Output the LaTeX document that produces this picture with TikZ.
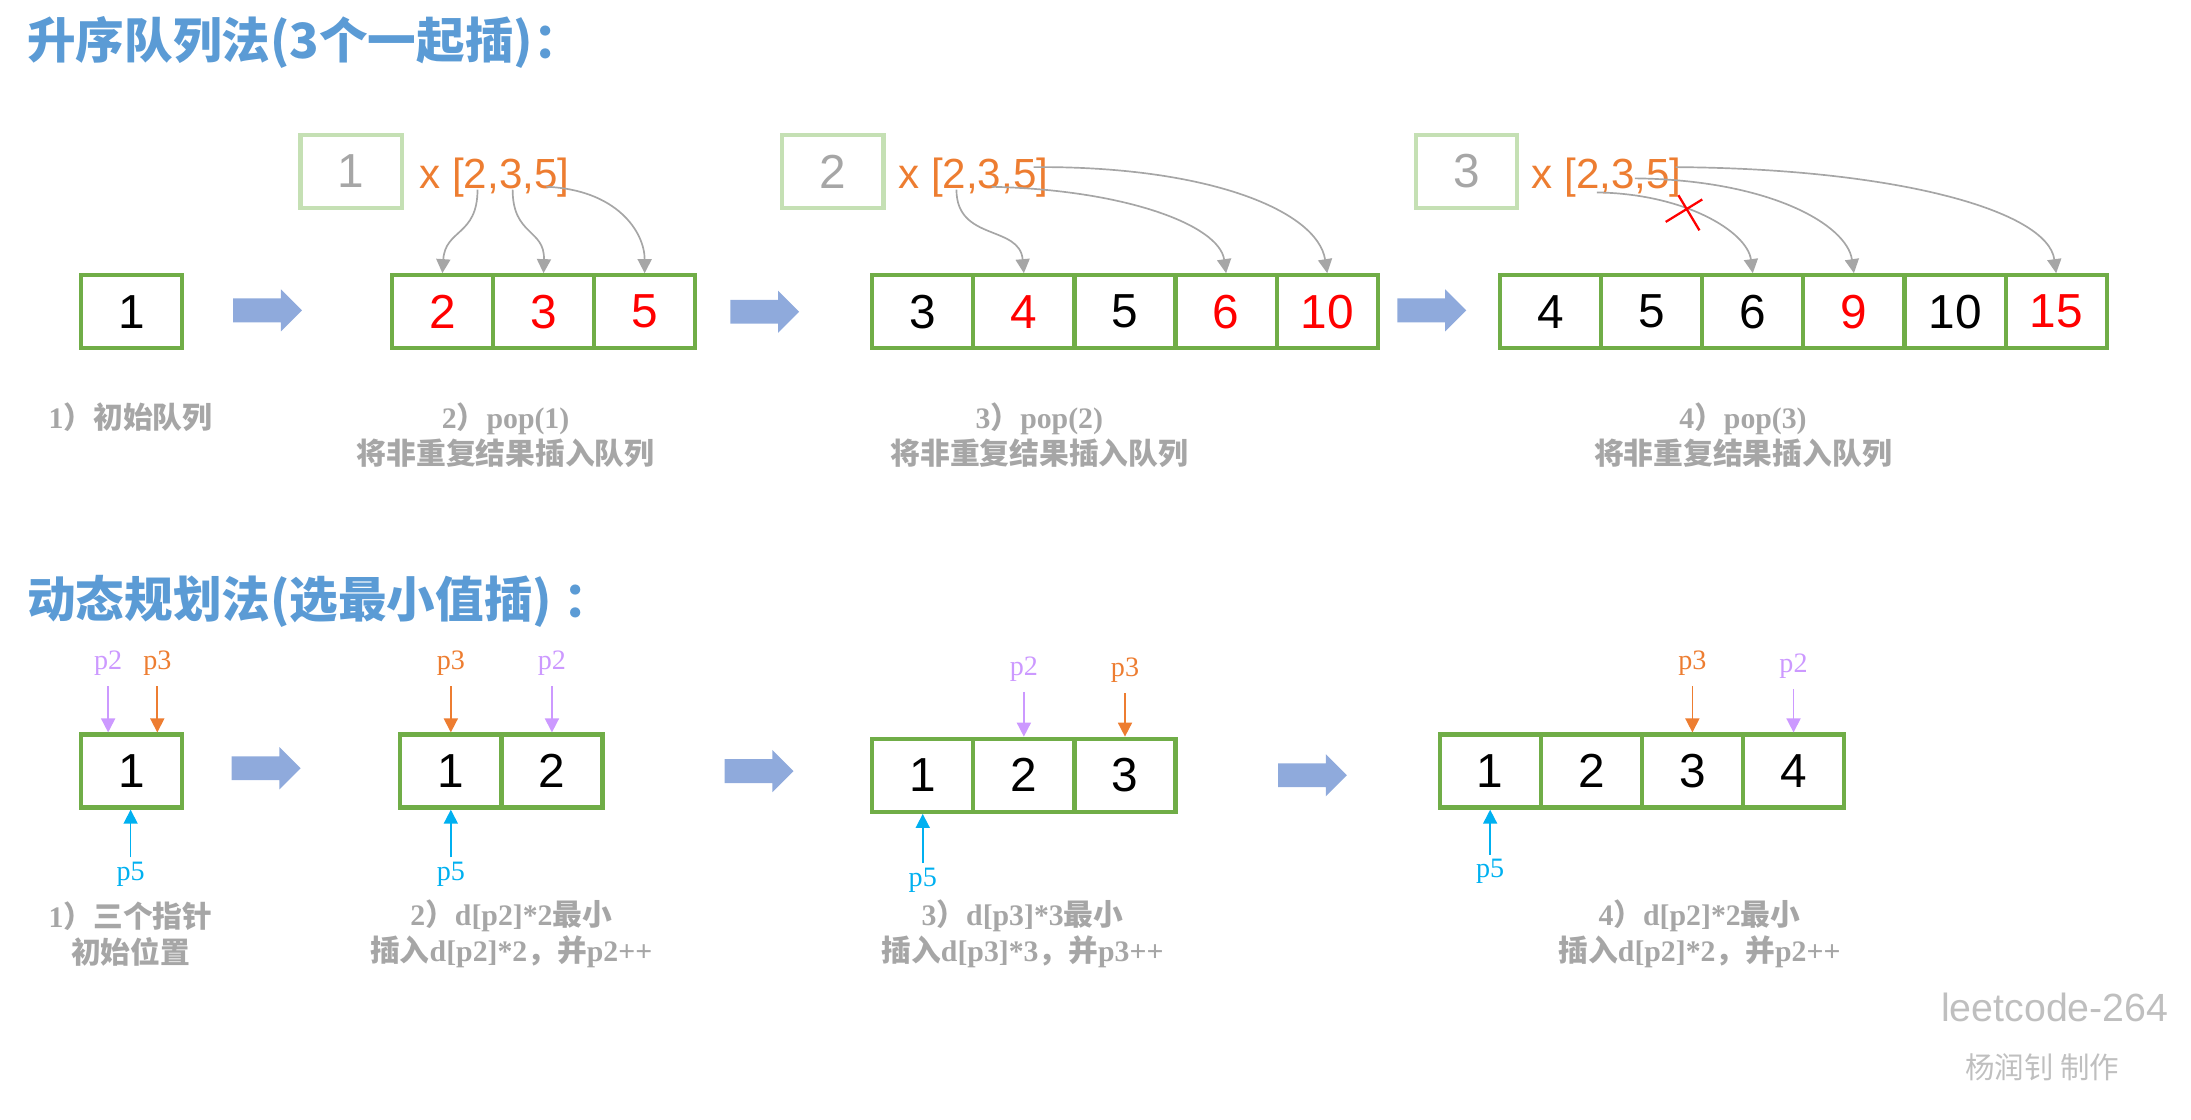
\documentclass[tikz,border=0pt]{standalone}
\usepackage{fontspec}
\setmainfont{Liberation Serif}
\setsansfont{Liberation Sans}
\newfontfamily\cjk{Noto Sans CJK SC}
\usetikzlibrary{arrows.meta}

\definecolor{boxgreen}{HTML}{70AD47}
\definecolor{ghostgreen}{HTML}{C5E0B4}
\definecolor{arrowblue}{HTML}{8FAADC}
\definecolor{titleblue}{HTML}{5B9BD5}
\definecolor{numorange}{HTML}{ED7D31}
\definecolor{ptrpurple}{HTML}{CC99FF}
\definecolor{ptrcyan}{HTML}{00B0F0}
\definecolor{labelgray}{HTML}{A6A6A6}
\definecolor{markgray}{HTML}{BFBFBF}

\newcommand{\zh}[1]{{\cjk #1}}

\tikzset{
  cell/.style={draw=boxgreen, line width=1.5pt, minimum width=36pt, minimum height=26pt, inner sep=0pt, font=\sffamily\fontsize{17}{17}\selectfont},
  ghost/.style={draw=ghostgreen, line width=1.5pt, minimum width=36pt, minimum height=26pt, inner sep=0pt, text=labelgray, font=\sffamily\fontsize{17}{17}\selectfont},
  factors/.style={text=numorange, inner sep=0pt, anchor=base, font=\sffamily\fontsize{15}{15}\selectfont},
  title/.style={text=titleblue, anchor=west, inner sep=0pt, font=\cjk\bfseries\fontsize{17.3}{19}\selectfont},
  caption/.style={text=labelgray, align=center, inner sep=0pt, font=\bfseries\fontsize{10.6}{12.8}\selectfont},
  ptr/.style={inner sep=0pt, anchor=base, font=\fontsize{10}{10}\selectfont},
  feed/.style={draw=labelgray, line width=0.6pt, -{Triangle[width=5pt,length=5pt]}},
  pointer/.style={line width=0.6pt, -{Triangle[width=5pt,length=5pt]}},
  fatarrow/.pic={\fill[arrowblue] (0,-8.5) -- (34,-8.5) -- (34,-15) -- (49,0) -- (34,15) -- (34,8.5) -- (0,8.5) -- cycle;}
}

\begin{document}
\begin{tikzpicture}[x=0.5pt, y=-0.5pt]
    \useasboundingbox (0,0) rectangle (1560,797);

    % Titles
    \node[title] (t1) at (19,30) {升序队列法(3个一起插)：};
    \node[title] (t2) at (19,428) {动态规划法(选最小值插) ：};

    % Ascending queue, step 1
    \node[cell] (q1-1) at (93.5,222) {1};
    \node[caption] (c1) at (93,297) {1\zh{）初始队列}};
    \pic at (166,221) {fatarrow};

    % Step 2: pop(1)
    \node[ghost] (g1) at (250,122) {1};
    \node[factors] (f1) at (352,134) {x [2,3,5]};
    \foreach \v [count=\i] in {2,3,5}
        \node[cell, text=red] (q2-\i) at ({243+72*\i},222) {\v};
    \coordinate (s1a) at (340,135);
    \coordinate (s1b) at (365,135);
    \coordinate (s1c) at (389,133);
    \draw[feed] (s1a) .. controls (340,168) and (317,163) .. (q2-1.north);
    \draw[feed] (s1b) .. controls (365,168) and (388,163) .. (q2-2.north);
    \draw[feed] (s1c) .. controls (439,135) and (459,165) .. (q2-3.north);
    \node[caption] (c2) at (360,310) {2\zh{）}pop(1)\\\zh{将非重复结果插入队列}};
    \pic at (520,222) {fatarrow};

    % Step 3: pop(2)
    \node[ghost] (g2) at (593,122) {2};
    \node[factors] (f2) at (693,134) {x [2,3,5]};
    \foreach \v/\c [count=\i] in {3/black,4/red,5/black,6/red,10/red}
        \node[cell, text=\c] (q3-\i) at ({585+72*\i},222) {\v};
    \coordinate (s2a) at (681,135);
    \coordinate (s2b) at (706,133);
    \coordinate (s2c) at (736,119);
    \draw[feed] (s2a) .. controls (681,172) and (726,160) .. (q3-2.north);
    \draw[feed] (s2b) .. controls (800,135) and (868,160) .. (q3-4.north);
    \draw[feed] (s2c) .. controls (860,118) and (938,150) .. (q3-5.north);
    \node[caption] (c3) at (740,310) {3\zh{）}pop(2)\\\zh{将非重复结果插入队列}};
    \pic at (995,221) {fatarrow};

    % Step 4: pop(3)
    \node[ghost] (g3) at (1044,122) {3};
    \node[factors] (f3) at (1144,134) {x [2,3,5]};
    \foreach \v/\c [count=\i] in {4/black,5/black,6/black,9/red,10/black,15/red}
        \node[cell, text=\c] (q4-\i) at ({1032+72*\i},222) {\v};
    \coordinate (s3a) at (1137,137);
    \coordinate (s3b) at (1164,127);
    \coordinate (s3c) at (1193,119);
    \draw[feed] (s3a) .. controls (1200,138) and (1244,165) .. (q4-3.north);
    \draw[feed] (s3b) .. controls (1260,128) and (1315,160) .. (q4-4.north);
    \draw[feed] (s3c) .. controls (1350,120) and (1458,150) .. (q4-6.north);
    \draw[red, line width=0.8pt] (1186,158) -- (1212,142) (1195,139) -- (1210,164);
    \node[caption] (c4) at (1241,310) {4\zh{）}pop(3)\\\zh{将非重复结果插入队列}};

    % DP, step 1
    \node[cell] (d1-1) at (93.5,549) {1};
    \node[ptr, text=ptrpurple] (p2a) at (77,477) {p2};
    \node[ptr, text=numorange] (p3a) at (112,477) {p3};
    \node[ptr, text=ptrcyan] (p5a) at (93,627) {p5};
    \draw[pointer, ptrpurple, shorten <=3.5pt] (p2a.south) -- (p2a.south |- d1-1.north);
    \draw[pointer, numorange, shorten <=3.5pt] (p3a.south) -- (p3a.south |- d1-1.north);
    \draw[pointer, ptrcyan, shorten <=1.5pt] (p5a.north) -- (p5a.north |- d1-1.south);
    \node[caption] (e1) at (93,665) {1\zh{）三个指针}\\\zh{初始位置}};
    \pic at (165,547) {fatarrow};

    % DP, step 2
    \foreach \v [count=\i] in {1,2}
        \node[cell] (d2-\i) at ({249+72*\i},549) {\v};
    \node[ptr, text=numorange] (p3b) at (321,477) {p3};
    \node[ptr, text=ptrpurple] (p2b) at (393,477) {p2};
    \node[ptr, text=ptrcyan] (p5b) at (321,627) {p5};
    \draw[pointer, numorange, shorten <=3.5pt] (p3b.south) -- (p3b.south |- d2-1.north);
    \draw[pointer, ptrpurple, shorten <=3.5pt] (p2b.south) -- (p2b.south |- d2-2.north);
    \draw[pointer, ptrcyan, shorten <=1.5pt] (p5b.north) -- (p5b.north |- d2-1.south);
    \node[caption] (e2) at (364,665) {2\zh{）}d[p2]*2\zh{最小}\\\zh{插入}d[p2]*2\zh{，并}p2++};
    \pic at (516,549) {fatarrow};

    % DP, step 3
    \foreach \v [count=\i] in {1,2,3}
        \node[cell] (d3-\i) at ({585+72*\i},552) {\v};
    \node[ptr, text=ptrpurple] (p2c) at (729,481) {p2};
    \node[ptr, text=numorange] (p3c) at (801,482) {p3};
    \node[ptr, text=ptrcyan] (p5c) at (657,631) {p5};
    \draw[pointer, ptrpurple, shorten <=3.5pt] (p2c.south) -- (p2c.south |- d3-2.north);
    \draw[pointer, numorange, shorten <=3.5pt] (p3c.south) -- (p3c.south |- d3-3.north);
    \draw[pointer, ptrcyan, shorten <=1.5pt] (p5c.north) -- (p5c.north |- d3-1.south);
    \node[caption] (e3) at (728,665) {3\zh{）}d[p3]*3\zh{最小}\\\zh{插入}d[p3]*3\zh{，并}p3++};
    \pic at (910,552) {fatarrow};

    % DP, step 4
    \foreach \v [count=\i] in {1,2,3,4}
        \node[cell] (d4-\i) at ({989+72*\i},549) {\v};
    \node[ptr, text=numorange] (p3d) at (1205,477) {p3};
    \node[ptr, text=ptrpurple] (p2d) at (1277,479) {p2};
    \node[ptr, text=ptrcyan] (p5d) at (1061,625) {p5};
    \draw[pointer, numorange, shorten <=3.5pt] (p3d.south) -- (p3d.south |- d4-3.north);
    \draw[pointer, ptrpurple, shorten <=3.5pt] (p2d.south) -- (p2d.south |- d4-4.north);
    \draw[pointer, ptrcyan, shorten <=1.5pt] (p5d.north) -- (p5d.north |- d4-1.south);
    \node[caption] (e4) at (1210,665) {4\zh{）}d[p2]*2\zh{最小}\\\zh{插入}d[p2]*2\zh{，并}p2++};

    % Signature
    \node[text=markgray, font=\sffamily\fontsize{14}{14}\selectfont] (lc) at (1463,717) {leetcode-264};
    \node[text=markgray, font=\cjk\fontsize{10.5}{12}\selectfont] (au) at (1454,760) {杨润钊 制作};
\end{tikzpicture}
\end{document}
